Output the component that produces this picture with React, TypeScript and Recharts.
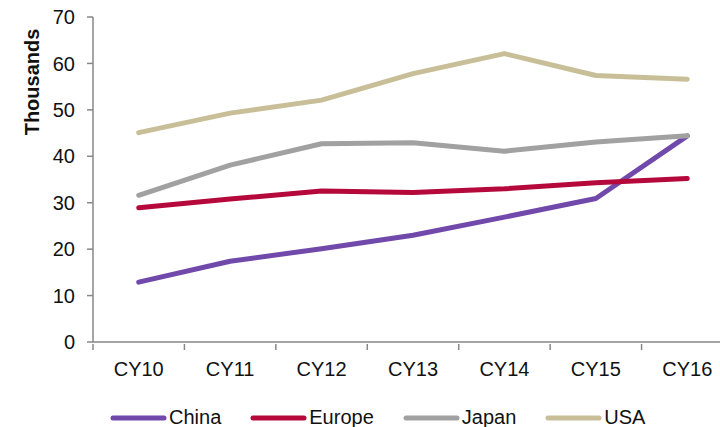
import { LineChart, Line, XAxis, YAxis, Legend } from 'recharts'

const years = ['CY10', 'CY11', 'CY12', 'CY13', 'CY14', 'CY15', 'CY16']
const china = [12.9, 17.4, 20.1, 23.0, 26.9, 30.9, 44.4]
const europe = [28.9, 30.8, 32.5, 32.2, 33.0, 34.3, 35.2]
const japan = [31.6, 38.1, 42.7, 42.9, 41.1, 43.1, 44.4]
const usa = [45.1, 49.3, 52.1, 57.8, 62.1, 57.4, 56.6]
const yTicks = [0, 10, 20, 30, 40, 50, 60, 70]

const SERIES = [
  { key: 'China', color: '#7149AB' },
  { key: 'Europe', color: '#B5093B' },
  { key: 'Japan', color: '#A1A1A1' },
  { key: 'USA', color: '#C8BF99' },
]

const data = years.map((y, i) => ({ year: y, China: china[i], Europe: europe[i], Japan: japan[i], USA: usa[i] }))

const FONT = '"Liberation Sans", Arial, sans-serif'
const AXIS = '#878787'
const BAND = 640 / 7

function XTick({ x, y, payload }: any) {
  const left = x - BAND / 2
  return (
    <g>
      <line x1={left} x2={left} y1={y - 6} y2={y} stroke={AXIS} strokeWidth={1.5} />
      <text x={x} y={y + 26} textAnchor="middle" fill="#111" fontSize={20} fontFamily={FONT}>{payload.value}</text>
    </g>
  )
}

function YLabel({ viewBox }: any) {
  const cx = 32
  const cy = viewBox.y + 65
  return (
    <text x={cx} y={cy} transform={`rotate(-90 ${cx} ${cy})`} textAnchor="middle" dominantBaseline="central"
      fontSize={20} fontWeight="bold" fill="#111" fontFamily={FONT}>Thousands</text>
  )
}

function Leg() {
  return (
    <div style={{ display: 'flex', alignItems: 'center', gap: 29, fontFamily: FONT, fontSize: 20, color: '#111', paddingLeft: 110 }}>
      {SERIES.map(s => (
        <div key={s.key} style={{ display: 'flex', alignItems: 'center', gap: 2 }}>
          <svg width={57} height={10}><line x1={3} x2={54} y1={5} y2={5} stroke={s.color} strokeWidth={5} strokeLinecap="round" /></svg>
          <span>{s.key}</span>
        </div>
      ))}
    </div>
  )
}

export default function App() {
  return (
    <div style={{ position: 'absolute', left: 0, top: 0, width: 720, height: 427, overflow: 'hidden', background: '#fff' }}>
      <LineChart width={745} height={427} data={data} margin={{ top: 17, right: 12, left: 0, bottom: 55 }}>
        <XAxis dataKey="year" scale="band" height={30} tick={<XTick />} tickLine={false}
          axisLine={{ stroke: AXIS, strokeWidth: 1.5 }} interval={0} />
        <YAxis width={93} domain={[0, 70]} ticks={yTicks} interval={0}
          tick={{ fill: '#111', fontSize: 20, fontFamily: FONT }} tickSize={6} tickMargin={12}
          tickLine={{ stroke: AXIS, strokeWidth: 1.5 }} axisLine={{ stroke: AXIS, strokeWidth: 1.5 }}
          label={<YLabel />} />
        <Legend layout="horizontal" verticalAlign="middle" content={<Leg />}
          wrapperStyle={{ top: 406, left: 0, width: 720 }} />
        {SERIES.map(s => (
          <Line key={s.key} dataKey={s.key} stroke={s.color} strokeWidth={5} strokeLinecap="round"
            strokeLinejoin="round" dot={false} activeDot={false} isAnimationActive={false} />
        ))}
      </LineChart>
    </div>
  )
}
